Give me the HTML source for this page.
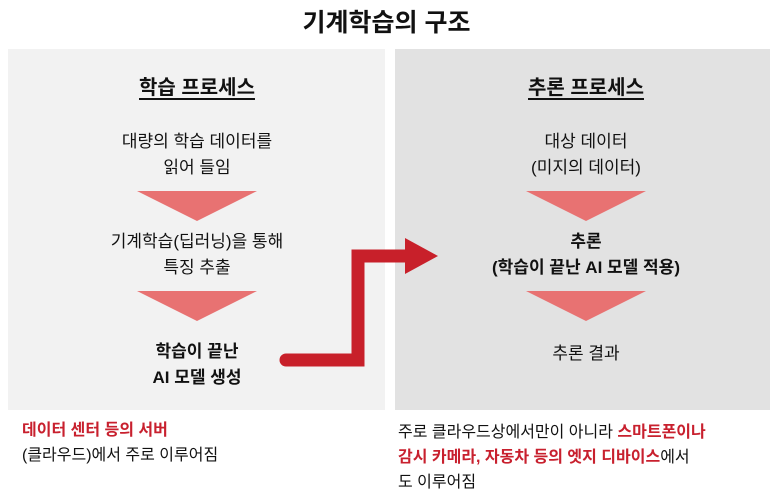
<!DOCTYPE html>
<html><head><meta charset="utf-8"><style>
body{margin:0;width:773px;height:500px;background:#fff;position:relative;overflow:hidden;font-family:"Liberation Sans","Noto Sans CJK KR","NanumGothic",sans-serif;color:#111}
.p{position:absolute;top:49px;height:361px}
.t{position:absolute;text-align:center;font-size:17px;line-height:26px;width:300px}
.tri{position:absolute;width:0;height:0;border-left:60px solid transparent;border-right:60px solid transparent;border-top:30px solid #e87272}
.r{color:#c8202e;font-weight:bold}
</style></head><body>
<div style="position:absolute;left:0;width:773px;top:3px;text-align:center;font-size:25px;font-weight:bold">기계학습의 구조</div>
<div class="p" style="left:8px;width:377px;background:#f2f2f2"></div>
<div class="p" style="left:395px;width:375px;background:#e2e2e2"></div>
<div class="t" style="left:47px;top:75px;font-size:20px;font-weight:bold"><span style="text-decoration:underline;text-underline-offset:4px">학습 프로세스</span></div>
<div class="t" style="left:436px;top:75px;font-size:20px;font-weight:bold"><span style="text-decoration:underline;text-underline-offset:4px">추론 프로세스</span></div>
<div class="t" style="left:47px;top:129px">대량의 학습 데이터를<br>읽어 들임</div>
<div class="tri" style="left:137px;top:191px"></div>
<div class="t" style="left:47px;top:229px">기계학습(딥러닝)을 통해<br>특징 추출</div>
<div class="tri" style="left:137px;top:291px"></div>
<div class="t" style="left:47px;top:339px;font-weight:bold">학습이 끝난<br>AI 모델 생성</div>
<div class="t" style="left:436px;top:129px">대상 데이터<br>(미지의 데이터)</div>
<div class="tri" style="left:526px;top:191px"></div>
<div class="t" style="left:436px;top:229px;font-weight:bold">추론<br>(학습이 끝난 AI 모델 적용)</div>
<div class="tri" style="left:526px;top:291px"></div>
<div class="t" style="left:436px;top:341px">추론 결과</div>
<svg style="position:absolute;left:0;top:0" width="773" height="500">
<polyline points="286,360 358,360 358,256 410,256" fill="none" stroke="#c8202a" stroke-width="13" stroke-linecap="round" stroke-linejoin="miter"/>
<polygon points="405,238 438,256 405,274" fill="#c8202a"/>
</svg>
<div style="position:absolute;left:22px;top:418px;font-size:16px;line-height:25px"><span class="r">데이터 센터 등의 서버</span><br>(클라우드)에서 주로 이루어짐</div>
<div style="position:absolute;left:398px;top:420px;font-size:16px;line-height:25px;width:375px">주로 클라우드상에서만이 아니라 <span class="r">스마트폰이나<br>감시 카메라, 자동차 등의 엣지 디바이스</span>에서<br>도 이루어짐</div>
</body></html>
